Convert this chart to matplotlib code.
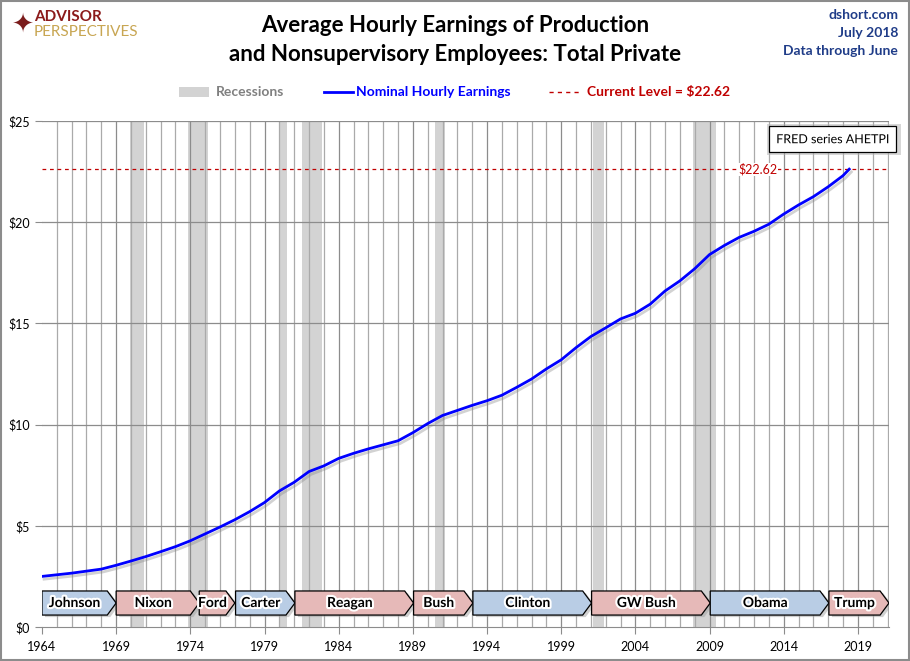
import numpy as np
import matplotlib
matplotlib.use("Agg")
import matplotlib.pyplot as plt
import matplotlib.patheffects as pe
from matplotlib.patches import Polygon, Rectangle

plt.rcParams['font.family'] = ['Lato', 'DejaVu Sans']

# earnings (year, $/hour)
years = [1964.0, 1965.0, 1966.0, 1967.0, 1968.0, 1969.0, 1970.0, 1971.0, 1972.0, 1973.0,
         1974.0, 1975.0, 1976.0, 1977.0, 1978.0, 1979.0, 1980.0, 1981.0, 1982.0, 1983.0,
         1984.0, 1985.0, 1986.0, 1987.0, 1988.0, 1989.0, 1990.0, 1991.0, 1992.0, 1993.0,
         1994.0, 1995.0, 1996.0, 1997.0, 1998.0, 1999.0, 2000.0, 2001.0, 2002.0, 2003.0,
         2004.0, 2005.0, 2006.0, 2007.0, 2008.0, 2009.0, 2010.0, 2011.0, 2012.0, 2013.0,
         2014.0, 2015.0, 2016.0, 2017.0, 2018.0, 2018.42]
earnings = [2.50, 2.58, 2.66, 2.76, 2.86, 3.05, 3.26, 3.48, 3.72, 3.97,
            4.26, 4.60, 4.94, 5.30, 5.70, 6.15, 6.72, 7.15, 7.68, 7.96,
            8.33, 8.58, 8.80, 9.00, 9.20, 9.60, 10.05, 10.45, 10.70, 10.95,
            11.18, 11.45, 11.84, 12.25, 12.75, 13.20, 13.80, 14.35, 14.78, 15.22,
            15.50, 15.95, 16.60, 17.10, 17.70, 18.40, 18.85, 19.25, 19.55, 19.90,
            20.40, 20.85, 21.26, 21.75, 22.30, 22.62]
current = 22.62

rec_start = [1969.92, 1973.83, 1980.0, 1981.5, 1990.5, 2001.17, 2007.92]
rec_end = [1970.87, 1975.17, 1980.5, 1982.87, 1991.17, 2001.87, 2009.46]

pres_names = ['Johnson', 'Nixon', 'Ford', 'Carter', 'Reagan', 'Bush',
              'Clinton', 'GW Bush', 'Obama', 'Trump']
pres_start = [1964.0, 1969.0, 1974.6, 1977.05, 1981.05, 1989.05,
              1993.05, 2001.05, 2009.05, 2017.05]
pres_end = [1969.0, 1974.6, 1977.0, 1981.05, 1989.05, 1993.05,
            2001.05, 2009.05, 2017.05, 2021.1]
pres_party = ['D', 'R', 'R', 'D', 'R', 'R', 'D', 'R', 'D', 'R']

fig = plt.figure(figsize=(9.1, 6.61), dpi=100)
ax = fig.add_axes([0.04615, 0.05144, 0.93077, 0.7655])
ax.set_xlim(1964, 2021.1)
ax.set_ylim(0, 25)

# grid
for yr in range(1965, 2022):
    c = '#8c8c8c' if (yr - 1964) % 5 == 0 else '#aaaaaa'
    ax.axvline(yr, color=c, lw=0.9, zorder=0.6)
for v in range(5, 26, 5):
    ax.axhline(v, color='#8c8c8c', lw=0.9, zorder=0.6)

for s, e in zip(rec_start, rec_end):
    ax.axvspan(s, e, color='#d3d3d3', lw=0, zorder=0.3)

# current level
ax.axhline(current, color='#c00000', lw=0.9, ls=(0, (3, 3)), zorder=2)
ax.text(2012.25, current, '$22.62', color='#c00000', fontsize=9, ha='center', va='center',
        zorder=3, bbox=dict(boxstyle='square,pad=0.02', fc='white', ec='none'))

# earnings line
ax.plot(years, earnings, color='#0000ff', lw=2, zorder=4,
        path_effects=[pe.SimpleLineShadow(offset=(1.5, -2), shadow_color='#808080', alpha=0.35),
                      pe.Normal()])

# president arrows
y0, y1 = 0.59, 1.78
tip = 0.6
for name, s, e, p in zip(pres_names, pres_start, pres_end, pres_party):
    fc = '#b9cde5' if p == 'D' else '#e6b9b8'
    pts = [(s, y0), (e - tip, y0), (e, (y0 + y1) / 2), (e - tip, y1), (s, y1)]
    shadow = Polygon([(x + 0.2, y - 0.1) for x, y in pts], closed=True, fc='#a0a0a0',
                     ec='none', alpha=0.5, zorder=4.5)
    ax.add_patch(shadow)
    ax.add_patch(Polygon(pts, closed=True, fc=fc, ec='black', lw=0.9, zorder=5))
    ax.text((s + e - tip) / 2, (y0 + y1) / 2, name, fontsize=10, fontweight='bold',
            ha='center', va='center', zorder=6,
            path_effects=[pe.withStroke(linewidth=3, foreground='white')])

# FRED box
ax.text(2017.3, 24.1, 'FRED series AHETPI', fontsize=9, ha='center', va='center', zorder=7,
        bbox=dict(boxstyle='square,pad=0.55', fc='white', ec='black', lw=0.9),
        path_effects=[pe.Normal()])
ax.add_patch(Rectangle((2012.9, 23.3), 9.0, 1.55, fc='#b0b0b0', ec='none', alpha=0.5,
                       zorder=6.5, clip_on=False))

ax.set_xticks(range(1964, 2020, 5))
ax.set_yticks(range(0, 26, 5))
ax.set_yticklabels(['$%d' % v for v in range(0, 26, 5)])
ax.tick_params(axis='both', length=5, color='#8c8c8c', labelsize=9)
ax.tick_params(axis='x', pad=5)
for side in ['top', 'right', 'left']:
    ax.spines[side].set_visible(False)
ax.spines['bottom'].set_color('#8c8c8c')

# titles and header
fig.text(0.5, 0.962, 'Average Hourly Earnings of Production', fontsize=16, fontweight='bold',
         ha='center', va='center')
fig.text(0.5, 0.918, 'and Nonsupervisory Employees: Total Private', fontsize=16,
         fontweight='bold', ha='center', va='center')
for txt, yy in zip(['dshort.com', 'July 2018', 'Data through June'], [0.978, 0.950, 0.923]):
    fig.text(0.987, yy, txt, fontsize=10, fontweight='bold', color='#1f3c88',
             ha='right', va='center')

# logo
fig.text(0.0135, 0.962, '\u2726', fontsize=19, color='#7b1c1c', ha='left', va='center')
fig.text(0.037, 0.974, 'ADVISOR', fontsize=11, fontweight='bold', color='#8b1a1a',
         ha='left', va='center')
fig.text(0.037, 0.952, 'PERSPECTIVES', fontsize=11, color='#c8a653', ha='left', va='center')

# legend row
fig.patches.append(Rectangle((0.197, 0.853), 0.033, 0.016, transform=fig.transFigure,
                             fc='#d3d3d3', ec='none'))
fig.text(0.237, 0.861, 'Recessions', fontsize=10, fontweight='bold', color='#808080',
         va='center')
fig.lines.append(plt.Line2D([0.356, 0.388], [0.861, 0.861], transform=fig.transFigure,
                            color='#0000ff', lw=2))
fig.text(0.391, 0.861, 'Nominal Hourly Earnings', fontsize=10, fontweight='bold',
         color='#0000ff', va='center')
fig.lines.append(plt.Line2D([0.603, 0.636], [0.861, 0.861], transform=fig.transFigure,
                            color='#c00000', lw=1, ls=(0, (3, 3))))
fig.text(0.645, 0.861, 'Current Level = $22.62', fontsize=10, fontweight='bold',
         color='#c00000', va='center')

# outer frame
fig.patches.append(Rectangle((0.001, 0.001), 0.998, 0.998, transform=fig.transFigure,
                             fill=False, ec='#8c8c8c', lw=1.5))

fig.savefig('out.png', dpi=100)
